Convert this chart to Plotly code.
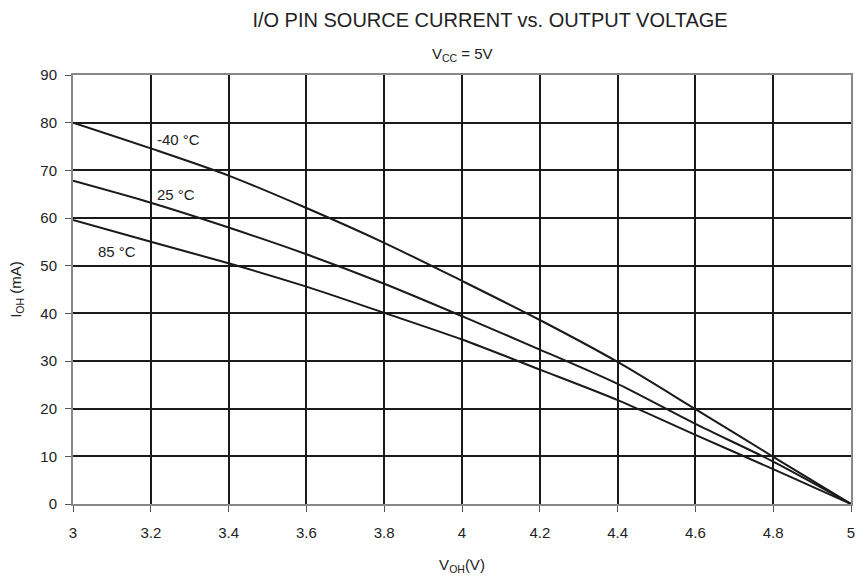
import plotly.graph_objects as go

# output voltage (V)
v_oh = [3.0, 3.2, 3.4, 3.6, 3.8, 4.0, 4.2, 4.4, 4.6, 4.8, 5.0]

# source current (mA) per temperature
i_m40 = [80.0, 74.6, 68.9, 62.1, 54.8, 46.8, 38.6, 29.8, 19.9, 9.9, 0.0]
i_25 = [67.8, 63.2, 58.0, 52.4, 46.2, 39.4, 32.4, 25.2, 16.8, 8.9, 0.0]
i_85 = [59.6, 55.0, 50.5, 45.6, 40.1, 34.5, 28.2, 21.8, 14.5, 7.3, 0.0]

x_ticks = [3, 3.2, 3.4, 3.6, 3.8, 4, 4.2, 4.4, 4.6, 4.8, 5]
x_tick_text = ["3", "3.2", "3.4", "3.6", "3.8", "4", "4.2", "4.4", "4.6", "4.8", "5"]

labels = ["-40 °C", "25 °C", "85 °C"]
label_x = [3.21, 3.21, 3.06]
label_y = [76.4, 65.0, 53.0]

fig = go.Figure()
for ys in (i_m40, i_25, i_85):
    fig.add_trace(go.Scatter(x=v_oh, y=ys, mode="lines",
                             line=dict(color="#1a1a1a", width=2, shape="spline", smoothing=0.8),
                             showlegend=False, hoverinfo="skip"))

for t, lx, ly in zip(labels, label_x, label_y):
    fig.add_annotation(x=lx, y=ly, text=t, showarrow=False, xanchor="left",
                       font=dict(size=15, color="#222"))

fig.add_annotation(text="V<sub>CC</sub> = 5V", xref="paper", yref="paper",
                   x=0.5, y=1.0, yanchor="middle", yshift=21, showarrow=False,
                   font=dict(size=15, color="#222"))

fig.update_layout(
    width=859, height=584,
    margin=dict(l=73, r=8, t=75, b=80),
    paper_bgcolor="white", plot_bgcolor="white",
    font=dict(family="Liberation Sans, Arial, sans-serif", color="#222"),
    title=dict(text="I/O PIN SOURCE CURRENT vs. OUTPUT VOLTAGE",
               xref="paper", x=0.536, xanchor="center", y=0.966, yanchor="middle",
               font=dict(size=20, color="#222")),
)
fig.update_xaxes(range=[3, 5], tickvals=x_ticks, ticktext=x_tick_text,
                 showgrid=True, gridcolor="#1a1a1a", gridwidth=2,
                 showline=True, linecolor="#888", linewidth=2, mirror=True,
                 ticks="outside", ticklen=6, tickcolor="#555", ticklabelstandoff=8,
                 tickfont=dict(size=15), zeroline=False, automargin=False,
                 title=dict(text="V<sub>OH</sub>(V)", font=dict(size=15), standoff=19))
fig.update_yaxes(range=[0, 90], dtick=10,
                 showgrid=True, gridcolor="#1a1a1a", gridwidth=2,
                 showline=True, linecolor="#888", linewidth=2, mirror=True,
                 ticks="outside", ticklen=6, tickcolor="#555", ticklabelstandoff=5,
                 tickfont=dict(size=15), zeroline=False, automargin=False,
                 title=dict(text="I<sub>OH</sub> (mA)", font=dict(size=15), standoff=15))

# drop the page's default body margin so the 859x584 figure fills the window
fig.write_html("out.html", config={"displayModeBar": False},
               post_script="document.body.style.margin='0';document.body.style.overflow='hidden';")
